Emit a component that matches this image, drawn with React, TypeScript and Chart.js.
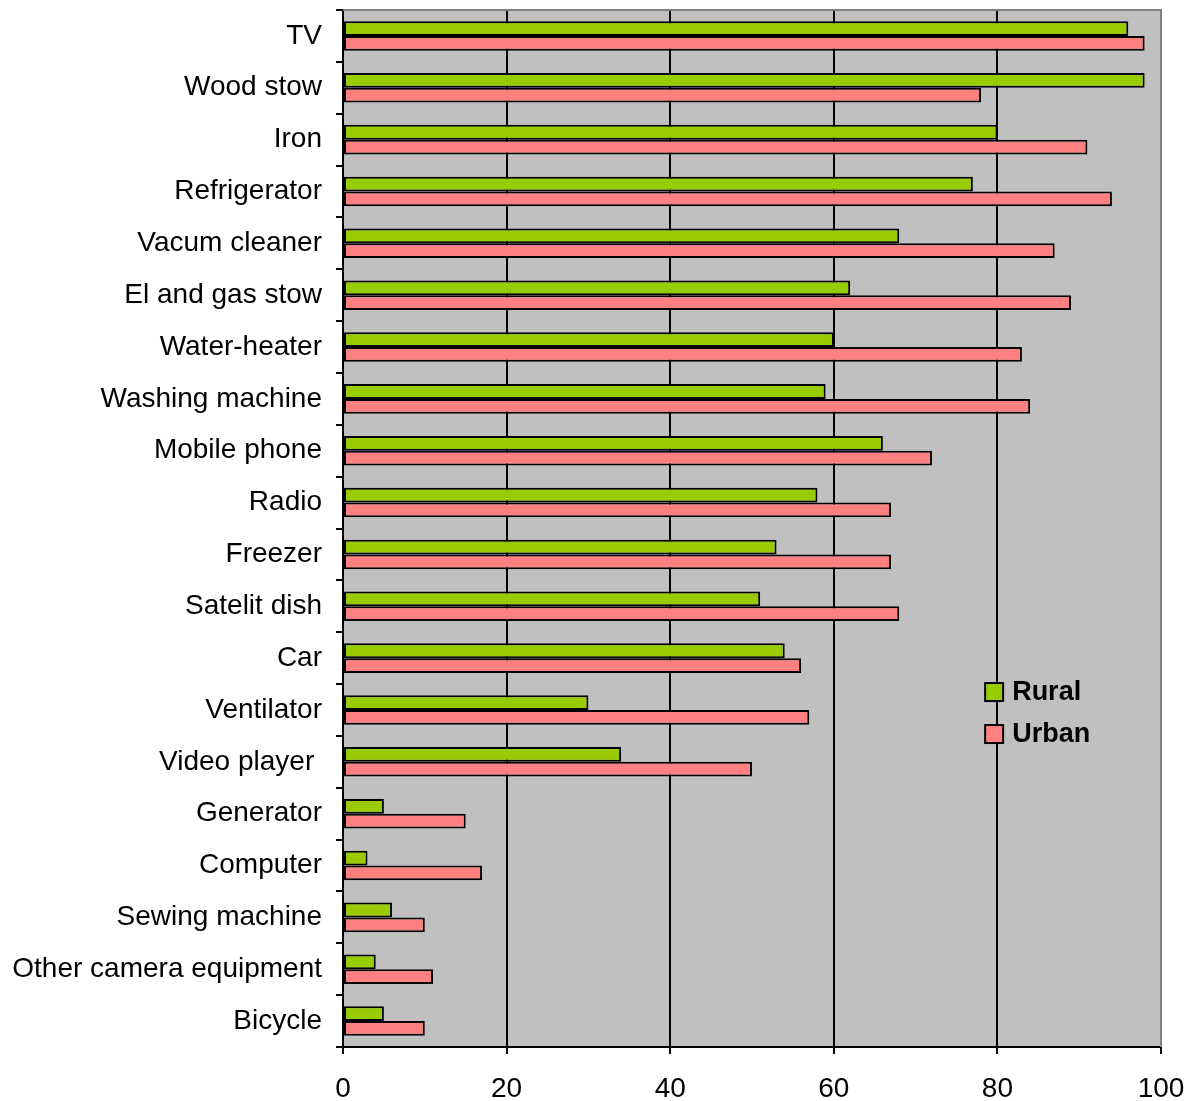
import React, { useEffect, useRef } from "react";
import { Chart, registerables } from "chart.js";

Chart.register(...registerables);

const categories = [
  "TV",
  "Wood stow",
  "Iron",
  "Refrigerator",
  "Vacum cleaner",
  "El and gas stow",
  "Water-heater",
  "Washing machine",
  "Mobile phone",
  "Radio",
  "Freezer",
  "Satelit dish",
  "Car",
  "Ventilator",
  "Video player ",
  "Generator",
  "Computer",
  "Sewing machine",
  "Other camera equipment",
  "Bicycle",
];

const rural = [96, 98, 80, 77, 68, 62, 60, 59, 66, 58, 53, 51, 54, 30, 34, 5, 3, 6, 4, 5];
const urban = [98, 78, 91, 94, 87, 89, 83, 84, 72, 67, 67, 68, 56, 57, 50, 15, 17, 10, 11, 10];

const seriesNames = ["Rural", "Urban"];
const seriesColors = ["#99CC00", "#FF8080"];

const bgPlugin = {
  id: "bgPlugin",
  beforeDraw(chart: any) {
    const { ctx, chartArea } = chart;
    ctx.save();
    ctx.fillStyle = "#C0C0C0";
    ctx.fillRect(chartArea.left, chartArea.top, chartArea.right - chartArea.left, chartArea.bottom - chartArea.top);
    ctx.restore();
  },
  afterDraw(chart: any) {
    const { ctx, chartArea } = chart;
    ctx.save();
    ctx.strokeStyle = "#808080";
    ctx.lineWidth = 2;
    ctx.beginPath();
    ctx.moveTo(chartArea.left, chartArea.top);
    ctx.lineTo(chartArea.right, chartArea.top);
    ctx.lineTo(chartArea.right, chartArea.bottom);
    ctx.stroke();

    // legend
    const w = chartArea.right - chartArea.left;
    const h = chartArea.bottom - chartArea.top;
    const bx = chartArea.left + 0.785 * w;
    const rows = [chartArea.top + 0.6577 * h, chartArea.top + 0.6982 * h];
    ctx.font = "bold 27px 'Liberation Sans', Arial, sans-serif";
    ctx.textBaseline = "middle";
    ctx.textAlign = "left";
    rows.forEach((cy, i) => {
      ctx.fillStyle = seriesColors[i];
      ctx.fillRect(bx, cy - 9, 18, 18);
      ctx.strokeStyle = "#000";
      ctx.lineWidth = 2;
      ctx.strokeRect(bx, cy - 9, 18, 18);
      ctx.fillStyle = "#000";
      ctx.fillText(seriesNames[i], bx + 27, cy + 1);
    });
    ctx.restore();
  },
};

export default function App() {
  const ref = useRef<HTMLCanvasElement>(null);
  useEffect(() => {
    if (!ref.current) return;
    const chart = new Chart(ref.current, {
      type: "bar",
      data: {
        labels: categories,
        datasets: [
          {
            label: seriesNames[0],
            data: rural,
            backgroundColor: seriesColors[0],
            borderColor: "#000",
            borderWidth: 2,
            borderSkipped: false,
            categoryPercentage: 0.57,
            barPercentage: 1,
          },
          {
            label: seriesNames[1],
            data: urban,
            backgroundColor: seriesColors[1],
            borderColor: "#000",
            borderWidth: 2,
            borderSkipped: false,
            categoryPercentage: 0.57,
            barPercentage: 1,
          },
        ],
      },
      options: {
        indexAxis: "y",
        animation: false,
        responsive: false,
        maintainAspectRatio: false,
        layout: { padding: { left: 0, top: 10, right: 34, bottom: 0 } },
        plugins: {
          legend: { display: false },
          tooltip: { enabled: false },
        },
        scales: {
          x: {
            min: 0,
            max: 100,
            afterFit: (s: any) => {
              s.height = 54;
              s.paddingLeft = 0;
              s.paddingRight = 0;
            },
            ticks: {
              stepSize: 20,
              color: "#000",
              padding: 18,
              font: { family: "'Liberation Sans', Arial, sans-serif", size: 28 },
            },
            grid: {
              color: "#000",
              lineWidth: 2,
              tickLength: 7,
              drawOnChartArea: true,
            },
            border: { color: "#000", width: 2 },
          },
          y: {
            offset: true,
            afterFit: (s: any) => {
              s.width = 343;
              s.paddingTop = 0;
              s.paddingBottom = 0;
            },
            ticks: {
              color: "#000",
              padding: 14,
              autoSkip: false,
              font: { family: "'Liberation Sans', Arial, sans-serif", size: 28 },
            },
            grid: {
              offset: true,
              color: "#000",
              lineWidth: 2,
              tickLength: 7,
              drawOnChartArea: false,
              drawTicks: true,
            },
            border: { color: "#000", width: 2 },
          },
        },
      },
      plugins: [bgPlugin],
    });
    return () => chart.destroy();
  }, []);
  return (
    <div style={{ position: "absolute", left: 0, top: 0, width: 1195, height: 1101 }}>
      <canvas ref={ref} width={1195} height={1101} style={{ width: 1195, height: 1101 }} />
    </div>
  );
}
